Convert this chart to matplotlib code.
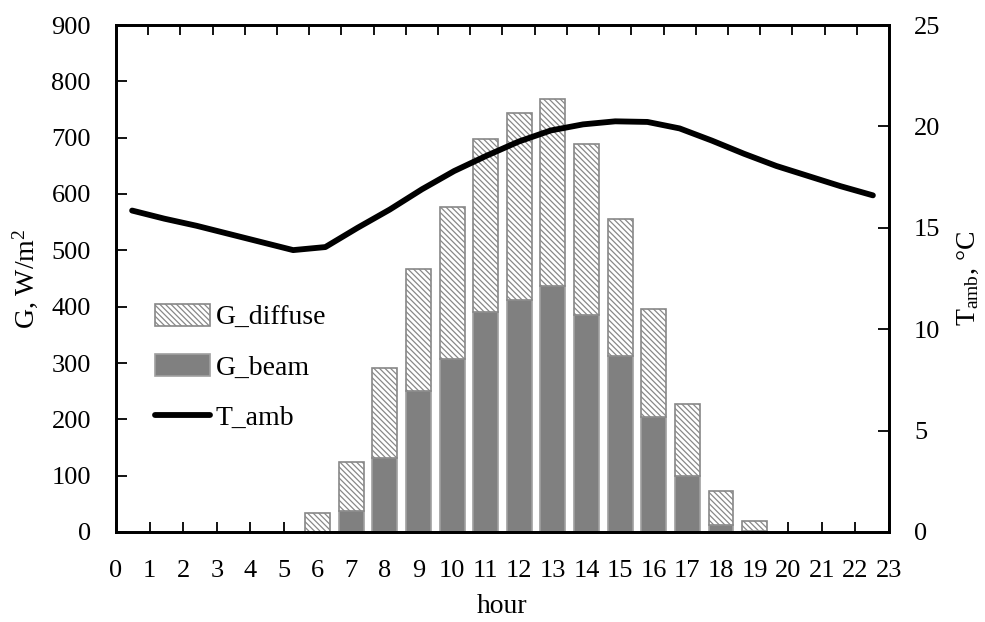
import matplotlib
matplotlib.use("Agg")
import matplotlib.pyplot as plt

# data
hours = list(range(24))
bar_hours = [6, 7, 8, 9, 10, 11, 12, 13, 14, 15, 16, 17, 18, 19]
g_beam = [0, 38, 132, 250, 307, 390, 412, 437, 385, 313, 205, 100, 12, 1]
g_diffuse = [33, 87, 160, 216, 270, 308, 331, 331, 303, 242, 191, 127, 61, 18]
t_amb = [15.85, 15.45, 15.1, 14.7, 14.3, 13.9, 14.05, 15.0, 15.9, 16.9, 17.8, 18.55,
         19.25, 19.8, 20.1, 20.25, 20.22, 19.9, 19.3, 18.65, 18.05, 17.55, 17.05, 16.6]

plt.rcParams["font.family"] = ["Liberation Serif", "DejaVu Serif"]
plt.rcParams["mathtext.fontset"] = "custom"
plt.rcParams["mathtext.rm"] = "Liberation Serif"
plt.rcParams["mathtext.it"] = "Liberation Serif:italic"
plt.rcParams["font.size"] = 19
plt.rcParams["hatch.linewidth"] = 0.9

fig = plt.figure(figsize=(9.85, 6.22), dpi=100)
ax = fig.add_axes([116 / 985, 1 - 532 / 622, (889 - 116) / 985, (532 - 25) / 622])

# stacked bars
b1 = ax.bar(bar_hours, g_beam, width=0.74, color="#808080", edgecolor="#a0a0a0",
            linewidth=1.2, label="G_beam", zorder=2)
b2 = ax.bar(bar_hours, g_diffuse, width=0.74, bottom=g_beam, color="white",
            edgecolor="#888888", linewidth=1.2, hatch="\\\\\\\\\\\\",
            label="G_diffuse", zorder=2)

ax.set_xlim(0, 23)
ax.set_ylim(0, 900)
ax.set_xticks(hours)
ax.set_yticks(range(0, 901, 100))
ax.tick_params(axis="x", direction="in", length=7, width=1.3, pad=20)
ax.tick_params(axis="y", direction="in", length=8, width=1.3, pad=18)
ax.set_xlabel("hour", labelpad=9, fontsize=20)
ax.set_ylabel("G, W/m$^2$", labelpad=8, fontsize=20)
for s in ax.spines.values():
    s.set_linewidth(1.8)

# temperature on secondary axes (categories 0..23 across full width)
ax2 = ax.twinx()
ax2.set_ylim(0, 25)
ax2.set_yticks(range(0, 26, 5))
ax2.tick_params(axis="y", direction="in", length=8, width=1.3, pad=18)
ax2.set_ylabel("T$_{\\mathrm{amb}}$, °C", labelpad=11, fontsize=20)

ax3 = ax2.twiny()
ax3.set_xlim(-0.5, 23.5)
ln, = ax3.plot(hours, t_amb, color="black", linewidth=4.2, label="T_amb",
               solid_capstyle="round")
ax3.set_xticks([h + 0.5 for h in hours[:-1]])
ax3.tick_params(axis="x", direction="in", length=7, width=1.3, labeltop=False)
for a in (ax2, ax3):
    for s in a.spines.values():
        s.set_linewidth(1.8)

ax3.legend([b2, b1, ln], ["G_diffuse", "G_beam", "T_amb"], loc="center left",
           bbox_to_anchor=(0.05, 0.325), frameon=False, borderaxespad=0,
           borderpad=0, handlelength=2.0, handleheight=0.85, handletextpad=0.2,
           labelspacing=0.85, fontsize=20)

fig.savefig("out.png", dpi=100)
